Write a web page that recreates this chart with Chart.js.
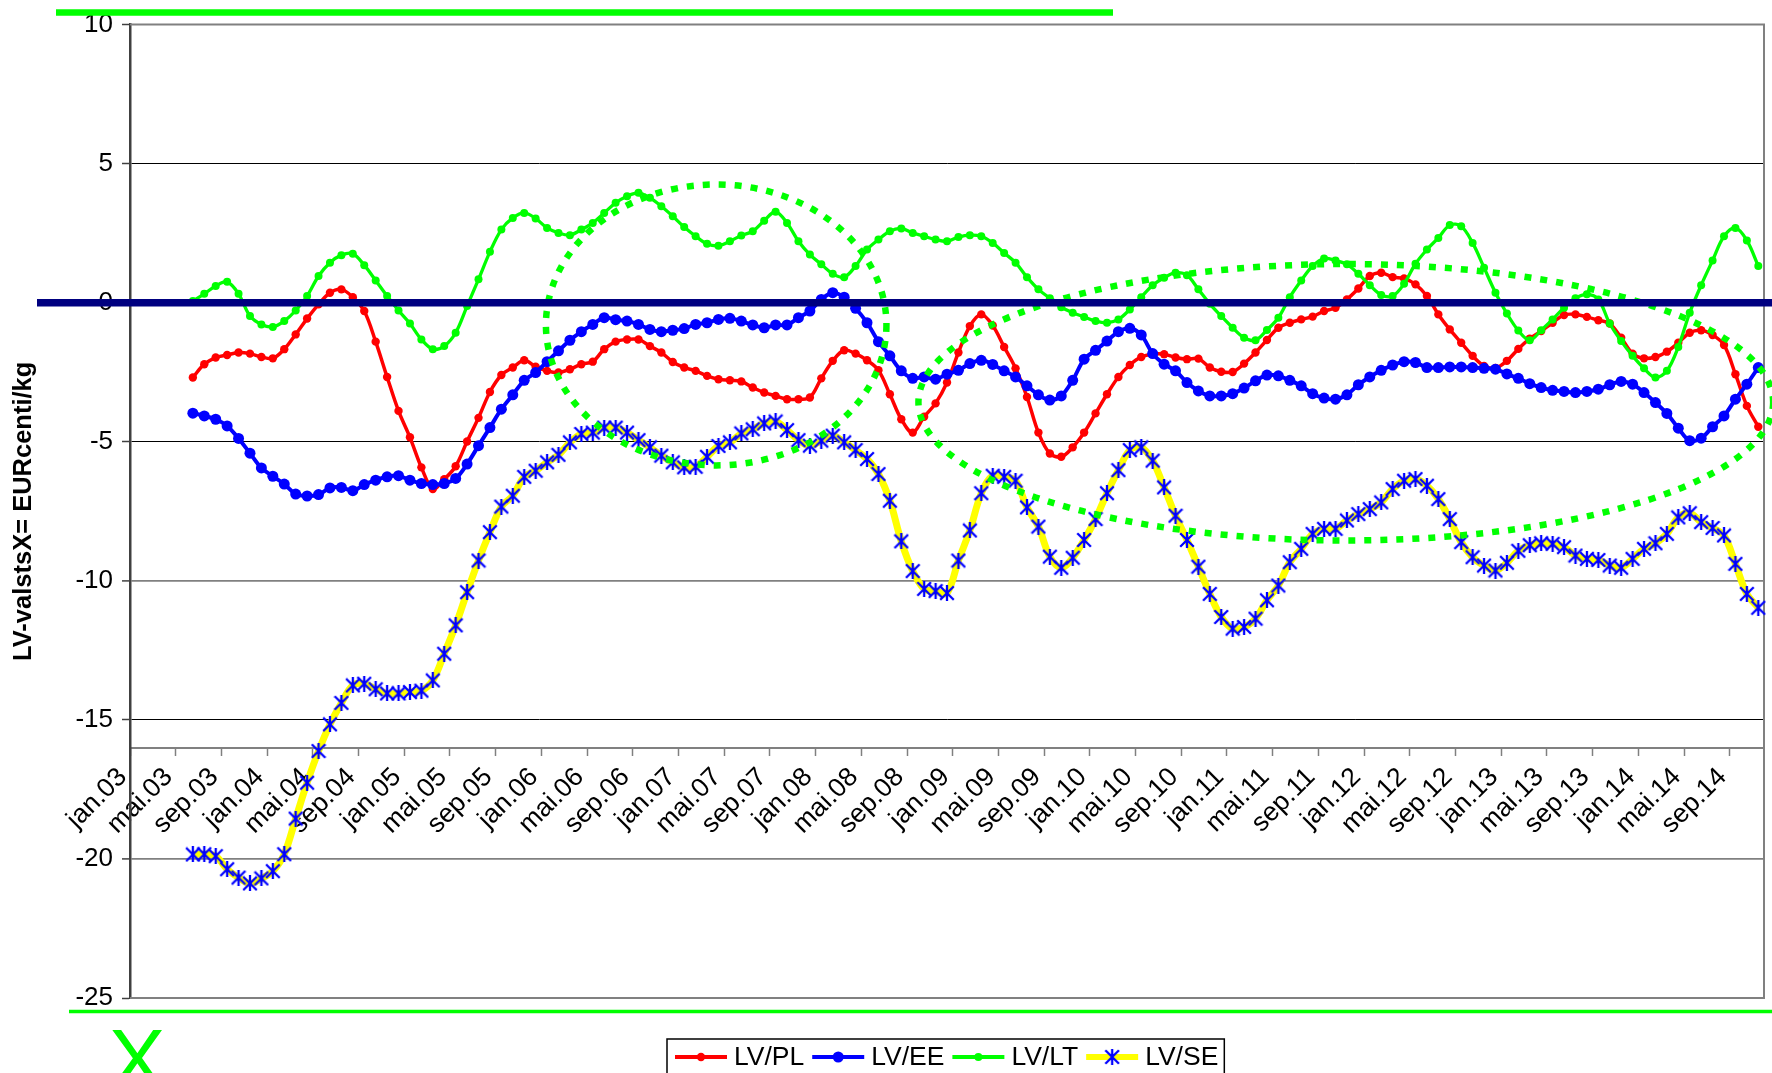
<!DOCTYPE html>
<html>
<head>
<meta charset="utf-8">
<script src="https://cdn.jsdelivr.net/npm/chart.js"></script>
<style>
  html, body { margin: 0; padding: 0; background: #fff; }
  #wrap { width: 1772px; height: 1073px; }
</style>
</head>
<body>
<div id="wrap"><canvas id="chart" width="1772" height="1073"></canvas></div>
<script>
// ---------------- Data ----------------

const monthNames = ['jan', 'feb', 'mar', 'apr', 'mai', 'jūn', 'jūl', 'aug', 'sep', 'okt', 'nov', 'dec'];
const years = ['03', '04', '05', '06', '07', '08', '09', '10', '11', '12', '13', '14'];
// jan.03 ... nov.14
const categories = years.flatMap(y => monthNames.map(m => `${m}.${y}`)).slice(0, 143);

const yTicks = [10, 5, 0, -5, -10, -15, -20, -25];
const yTitle = 'LV-valstsX= EURcenti/kg';

// series start in jun.03
const noData = [null, null, null, null, null];

const lvPL = [
    -2.69, -2.21, -1.97, -1.88, -1.79, -1.83, -1.95,
    -2.00, -1.67, -1.14, -0.57, -0.06, 0.36, 0.48, 0.20, -0.30, -1.40, -2.67, -3.89,
    -4.84, -5.92, -6.70, -6.35, -5.88, -4.99, -4.14, -3.21, -2.60, -2.33, -2.07, -2.30,
    -2.45, -2.51, -2.39, -2.21, -2.12, -1.67, -1.40, -1.32, -1.32, -1.56, -1.79, -2.13,
    -2.33, -2.45, -2.63, -2.75, -2.79, -2.83, -3.05, -3.23, -3.35, -3.47, -3.47, -3.41,
    -2.72, -2.09, -1.71, -1.83, -2.07, -2.43, -3.29, -4.19, -4.67, -4.10, -3.62, -2.87,
    -1.79, -0.84, -0.42, -0.82, -1.59, -2.36, -3.39, -4.67, -5.42, -5.54, -5.20, -4.67,
    -3.98, -3.29, -2.67, -2.24, -1.95, -1.85, -1.85, -1.97, -2.03, -2.01, -2.33, -2.48,
    -2.49, -2.19, -1.79, -1.34, -0.90, -0.72, -0.60, -0.50, -0.30, -0.18, 0.12, 0.51,
    0.96, 1.08, 0.92, 0.87, 0.66, 0.24, -0.42, -0.96, -1.44, -1.91, -2.27, -2.35,
    -2.09, -1.66, -1.29, -1.02, -0.72, -0.44, -0.42, -0.51, -0.63, -0.75, -1.26, -1.83,
    -2.00, -1.95, -1.76, -1.44, -1.08, -0.99, -1.16, -1.52, -2.57, -3.71, -4.46
];

const lvEE = [
    -3.97, -4.07, -4.19, -4.43, -4.88, -5.41, -5.94,
    -6.24, -6.52, -6.88, -6.95, -6.90, -6.66, -6.64, -6.76, -6.54, -6.38, -6.26, -6.22,
    -6.38, -6.50, -6.54, -6.50, -6.32, -5.80, -5.14, -4.49, -3.83, -3.31, -2.79, -2.51,
    -2.12, -1.73, -1.35, -1.04, -0.78, -0.54, -0.61, -0.66, -0.78, -0.96, -1.04, -0.99,
    -0.93, -0.78, -0.72, -0.60, -0.56, -0.66, -0.80, -0.90, -0.80, -0.80, -0.54, -0.30,
    0.12, 0.36, 0.20, -0.20, -0.72, -1.40, -1.91, -2.45, -2.72, -2.67, -2.75, -2.57,
    -2.43, -2.19, -2.07, -2.22, -2.45, -2.67, -2.99, -3.31, -3.50, -3.35, -2.79, -2.03,
    -1.71, -1.38, -1.04, -0.92, -1.16, -1.83, -2.21, -2.45, -2.87, -3.17, -3.35, -3.35,
    -3.27, -3.07, -2.81, -2.60, -2.63, -2.79, -2.99, -3.27, -3.43, -3.47, -3.31, -2.95,
    -2.67, -2.43, -2.24, -2.12, -2.15, -2.33, -2.33, -2.31, -2.31, -2.33, -2.36, -2.39,
    -2.56, -2.72, -2.91, -3.05, -3.15, -3.19, -3.23, -3.19, -3.11, -2.95, -2.83, -2.93,
    -3.23, -3.59, -3.98, -4.51, -4.96, -4.87, -4.46, -4.07, -3.47, -2.93, -2.33
];

const lvLT = [
    0.06, 0.32, 0.60, 0.75, 0.32, -0.48, -0.78,
    -0.87, -0.66, -0.28, 0.24, 0.96, 1.44, 1.71, 1.76, 1.35, 0.80, 0.24, -0.28,
    -0.75, -1.32, -1.67, -1.56, -1.08, -0.12, 0.84, 1.83, 2.63, 3.05, 3.23, 3.03,
    2.69, 2.51, 2.43, 2.63, 2.87, 3.23, 3.59, 3.83, 3.95, 3.77, 3.47, 3.11,
    2.72, 2.39, 2.12, 2.05, 2.21, 2.42, 2.57, 2.95, 3.27, 2.87, 2.21, 1.73,
    1.38, 1.04, 0.92, 1.32, 1.91, 2.27, 2.57, 2.67, 2.51, 2.39, 2.27, 2.21,
    2.36, 2.43, 2.39, 2.15, 1.79, 1.44, 0.92, 0.48, 0.16, -0.16, -0.36, -0.51,
    -0.66, -0.72, -0.60, -0.24, 0.20, 0.63, 0.90, 1.08, 0.99, 0.48, -0.04, -0.48,
    -0.90, -1.26, -1.35, -0.98, -0.54, 0.20, 0.80, 1.32, 1.59, 1.52, 1.38, 1.04,
    0.63, 0.28, 0.24, 0.68, 1.40, 1.91, 2.33, 2.79, 2.75, 2.15, 1.26, 0.36,
    -0.39, -1.00, -1.35, -0.99, -0.60, -0.18, 0.16, 0.30, 0.12, -0.75, -1.38, -1.91,
    -2.36, -2.69, -2.45, -1.59, -0.36, 0.63, 1.52, 2.39, 2.69, 2.24, 1.32
];

const lvSE = [
    -19.84, -19.83, -19.90, -20.37, -20.67, -20.88, -20.70,
    -20.44, -19.83, -18.55, -17.26, -16.12, -15.16, -14.39, -13.76, -13.70, -13.90, -14.05, -14.05,
    -14.00, -13.95, -13.58, -12.62, -11.60, -10.41, -9.27, -8.25, -7.33, -6.94, -6.26, -6.04,
    -5.74, -5.47, -5.02, -4.72, -4.67, -4.49, -4.49, -4.67, -4.94, -5.20, -5.50, -5.74,
    -5.92, -5.90, -5.54, -5.15, -5.02, -4.70, -4.55, -4.34, -4.27, -4.58, -4.94, -5.14,
    -4.96, -4.78, -5.02, -5.30, -5.62, -6.16, -7.12, -8.58, -9.65, -10.29, -10.37, -10.44,
    -9.27, -8.19, -6.85, -6.22, -6.26, -6.40, -7.36, -8.05, -9.13, -9.53, -9.17, -8.53,
    -7.78, -6.85, -6.02, -5.30, -5.20, -5.68, -6.64, -7.66, -8.53, -9.49, -10.47, -11.30,
    -11.72, -11.66, -11.36, -10.70, -10.17, -9.33, -8.85, -8.31, -8.13, -8.13, -7.83, -7.60,
    -7.42, -7.18, -6.70, -6.40, -6.34, -6.58, -7.06, -7.78, -8.61, -9.15, -9.45, -9.63,
    -9.35, -8.92, -8.72, -8.65, -8.67, -8.79, -9.09, -9.21, -9.25, -9.45, -9.53, -9.21,
    -8.85, -8.65, -8.31, -7.72, -7.57, -7.89, -8.10, -8.37, -9.39, -10.47, -10.97
];

// hand-drawn dotted ovals (category index / value units)
const ovals = [
    { cx: 50.8, cy: -0.8, rx: 14.9, ry: 5.05 },
    { cx: 105.9, cy: -3.58, rx: 37.4, ry: 4.97 }
];

// ---------------- Styles ----------------

const FONT = "'Liberation Sans', Arial, sans-serif";
Chart.defaults.font.family = FONT;
Chart.defaults.color = '#000';

function makeStar(size, color) {
    const c = document.createElement('canvas');
    c.width = size;
    c.height = size;
    const g = c.getContext('2d');
    const m = size / 2, r = size / 2 - 1.2;
    g.strokeStyle = color;
    g.lineWidth = 2.3;
    g.beginPath();
    g.moveTo(m - r, m - r); g.lineTo(m + r, m + r);
    g.moveTo(m + r, m - r); g.lineTo(m - r, m + r);
    g.moveTo(m, 0); g.lineTo(m, size);
    g.stroke();
    return c;
}

const star = makeStar(16, '#0000ff');

function series(label, values, color, opts) {
    return Object.assign({
        label,
        data: noData.concat(values),
        borderColor: color,
        backgroundColor: color,
        pointBackgroundColor: color,
        pointBorderWidth: 0,
        tension: 0.35,
        spanGaps: false
    }, opts);
}

// ---------------- Decorations ----------------

const decor = {
    id: 'decor',
    beforeDatasetsDraw(chart) {
        const { ctx, chartArea: a } = chart;
        ctx.save();
        ctx.strokeStyle = '#808080';
        ctx.lineWidth = 2;
        ctx.beginPath();
        ctx.moveTo(a.left, a.top);
        ctx.lineTo(a.right, a.top);
        ctx.lineTo(a.right, a.bottom);
        ctx.lineTo(a.left, a.bottom);
        ctx.stroke();
        ctx.restore();
    },
    afterDatasetsDraw(chart) {
        const { ctx, scales: { x, y } } = chart;
        const step = x.getPixelForValue(1) - x.getPixelForValue(0);
        const unit = y.getPixelForValue(0) - y.getPixelForValue(1);

        ctx.save();
        ctx.strokeStyle = '#00ff00';
        ctx.lineWidth = 6.5;
        ctx.setLineDash([7, 9]);
        ovals.forEach(o => {
            ctx.beginPath();
            ctx.ellipse(x.getPixelForValue(o.cx), y.getPixelForValue(o.cy), o.rx * step, o.ry * unit, 0, 0, Math.PI * 2);
            ctx.stroke();
        });
        ctx.setLineDash([]);

        const y0 = y.getPixelForValue(0);
        ctx.strokeStyle = '#000080';
        ctx.lineWidth = 7.5;
        ctx.beginPath();
        ctx.moveTo(37, y0);
        ctx.lineTo(chart.width, y0);
        ctx.stroke();
        ctx.restore();
    },
    afterDraw(chart) {
        const { ctx } = chart;
        ctx.save();

        // green strokes above and below the plot
        ctx.strokeStyle = '#00ff00';
        ctx.lineWidth = 6.5;
        ctx.beginPath(); ctx.moveTo(56, 12.5); ctx.lineTo(1113, 12.5); ctx.stroke();
        ctx.lineWidth = 3.5;
        ctx.beginPath(); ctx.moveTo(69, 1011.5); ctx.lineTo(chart.width, 1011.5); ctx.stroke();

        ctx.fillStyle = '#00ff00';
        ctx.font = `85px ${FONT}`;
        ctx.textAlign = 'center';
        ctx.textBaseline = 'alphabetic';
        ctx.fillText('X', 137, 1089);

        // legend
        const ly = 1057;
        let lx = 675;
        ctx.font = `26.5px ${FONT}`;
        ctx.textAlign = 'left';
        ctx.textBaseline = 'middle';
        chart.data.datasets.forEach((ds, i) => {
            ctx.strokeStyle = ds.borderColor;
            ctx.lineWidth = ds.pointStyle === star ? 6 : 4;
            ctx.beginPath(); ctx.moveTo(lx, ly); ctx.lineTo(lx + 52, ly); ctx.stroke();
            if (ds.pointStyle === star) {
                ctx.drawImage(star, lx + 26 - star.width / 2, ly - star.height / 2);
            } else {
                ctx.fillStyle = ds.borderColor;
                ctx.beginPath(); ctx.arc(lx + 26, ly, ds.pointRadius, 0, Math.PI * 2); ctx.fill();
            }
            ctx.fillStyle = '#000';
            ctx.fillText(ds.label, lx + 59, ly + 1);
            lx += 59 + ctx.measureText(ds.label).width + 8;
        });
        ctx.strokeStyle = '#000';
        ctx.lineWidth = 1.5;
        ctx.strokeRect(667, 1039, lx - 2 - 667, 60);

        ctx.restore();
    }
};

// ---------------- Chart ----------------

new Chart(document.getElementById('chart'), {
    type: 'line',
    data: {
        labels: categories,
        datasets: [
            series('LV/PL', lvPL, '#ff0000', { borderWidth: 3.5, pointRadius: 4.2, order: 4 }),
            series('LV/EE', lvEE, '#0000ff', { borderWidth: 4, pointRadius: 5.5, order: 3 }),
            series('LV/LT', lvLT, '#00ff00', { borderWidth: 3.3, pointRadius: 4, order: 2 }),
            series('LV/SE', lvSE, '#ffff00', { borderWidth: 7, pointStyle: star, pointRadius: 8, order: 1 })
        ]
    },
    options: {
        responsive: false,
        animation: false,
        events: [],
        layout: { padding: { left: 0, top: 23, right: 3, bottom: 75 } },
        plugins: {
            legend: { display: false },
            tooltip: { enabled: false }
        },
        scales: {
            x: {
                type: 'category',
                position: { y: -16 },
                offset: true,
                afterFit: s => { s.height = 0; s.paddingLeft = 0; s.paddingRight = 0; },
                border: { display: true, color: '#808080', width: 2 },
                grid: {
                    offset: true,
                    drawOnChartArea: false,
                    drawTicks: true,
                    tickLength: 7,
                    tickWidth: 1.5,
                    tickColor: c => (c.index % 4 === 0 ? '#808080' : 'rgba(0,0,0,0)')
                },
                ticks: {
                    autoSkip: false,
                    maxRotation: 45,
                    minRotation: 45,
                    padding: 7,
                    labelOffset: -13,
                    font: { size: 26.5 },
                    color: '#000',
                    callback: (v, i) => (i % 4 === 0 ? categories[i] : '')
                }
            },
            y: {
                min: -25,
                max: 10,
                afterFit: s => { s.width = 130; },
                afterBuildTicks: s => { s.ticks = yTicks.map(v => ({ value: v })); },
                border: { display: true, color: '#404040', width: 2.5 },
                grid: {
                    color: c => ([-10, -20, 10, -25].includes(c.tick.value) ? '#808080' : '#000'),
                    lineWidth: c => ([-10, -20].includes(c.tick.value) ? 1.8 : 1),
                    tickLength: 8,
                    tickColor: '#404040',
                    tickWidth: 1.5
                },
                ticks: {
                    padding: 9,
                    font: { size: 26 },
                    color: '#000'
                },
                title: {
                    display: true,
                    text: yTitle,
                    font: { size: 25.5, weight: 'bold' },
                    color: '#000',
                    padding: { top: 9, bottom: 0 }
                }
            }
        }
    },
    plugins: [decor]
});
</script>
</body>
</html>
